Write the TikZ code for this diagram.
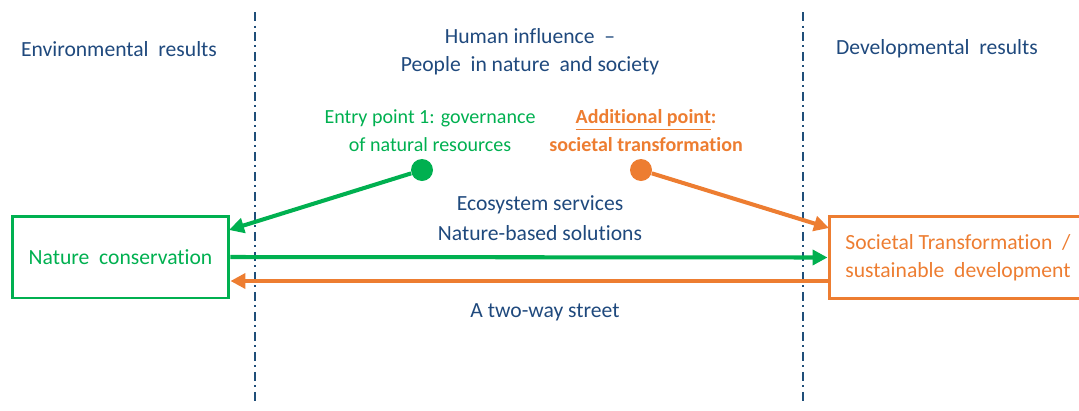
\documentclass[tikz,border=0pt]{standalone}
\usepackage{fontspec}
\setmainfont{Carlito}[Ligatures=NoCommon]
\usetikzlibrary{arrows.meta}
\definecolor{resultText}{RGB}{31,73,125}
\definecolor{borderLine}{RGB}{31,78,121}
\definecolor{natureGreen}{RGB}{0,176,80}
\definecolor{societyOrange}{RGB}{237,125,49}

\begin{document}
\begin{tikzpicture}[
  x=0.02cm,
  y={(0cm,-0.02cm)},
  every node/.style={font=\fontsize{12.3}{15.9}\selectfont},
  zoneLine/.style={draw=borderLine, line width=1.1pt,
    dash pattern=on 0.18cm off 0.09cm on 0.04cm off 0.09cm},
  headLabel/.style={text=resultText, align=center},
  greenLabel/.style={text=natureGreen, align=center, font=\fontsize{11.4}{15.9}\selectfont},
  orangeLabel/.style={text=societyOrange, align=center, font=\fontsize{11.4}{15.9}\selectfont\bfseries},
  resultBox/.style={draw, line width=1.7pt, minimum height=1.64cm, inner sep=0pt},
  pointDot/.style={circle, minimum size=0.44cm, inner sep=0pt},
  linkArrow/.style={line width=2.3pt, -{Triangle[length=0.3cm, width=0.3cm]}}
]
  \useasboundingbox (0,0) rectangle (1079,410);

  % zone borders
  \draw[zoneLine] (255,12) -- (255,405);
  \draw[zoneLine] (803,12) -- (803,405);

  % headings
  \node[headLabel] (envHead) at (119,49) {Environmental~ results};
  \node[headLabel] (devHead) at (937,49) {Developmental~ results};
  \node[headLabel] (humanHead) at (530,36) {Human influence~ --};
  \node[headLabel] (peopleHead) at (530,66) {People~ in nature~ and society};

  % entry points
  \node[greenLabel] (entryText) at (430,131)
    {Entry point 1: governance\\of natural resources};
  \node[orangeLabel] (addText) at (646,131)
    {\underline{Additional point}:\\societal transformation};
  \node[pointDot, fill=natureGreen] (entryDot) at (422,170) {};
  \node[pointDot, fill=societyOrange] (addDot) at (641,170) {};

  % result boxes
  \node[resultBox, draw=natureGreen, text=natureGreen, minimum width=4.34cm] (natBox) at (120.5,257)
    {Nature~ conservation};
  \node[resultBox, draw=societyOrange, text=societyOrange, minimum width=5.16cm, align=center] (socBox) at (958,257.5)
    {Societal Transformation~ /\\sustainable~ development};

  % arrow ends
  \coordinate (natTop) at (229,230);
  \coordinate (socTop) at (829,228);
  \coordinate (backRow) at (0,281);

  \draw[linkArrow, natureGreen] (entryDot) -- (natTop);
  \draw[linkArrow, societyOrange] (addDot) -- (socTop);
  \draw[linkArrow, natureGreen] (natBox.east) -- (socBox.west);
  \draw[linkArrow, societyOrange] (socBox.west |- backRow) -- (natBox.east |- backRow);

  % middle labels
  \node[headLabel] (ecoText) at (540,205) {Ecosystem services};
  \node[headLabel] (nbsText) at (540,233) {Nature-based solutions};
  \node[headLabel] (wayText) at (545,312) {A two-way street};
\end{tikzpicture}
\end{document}
